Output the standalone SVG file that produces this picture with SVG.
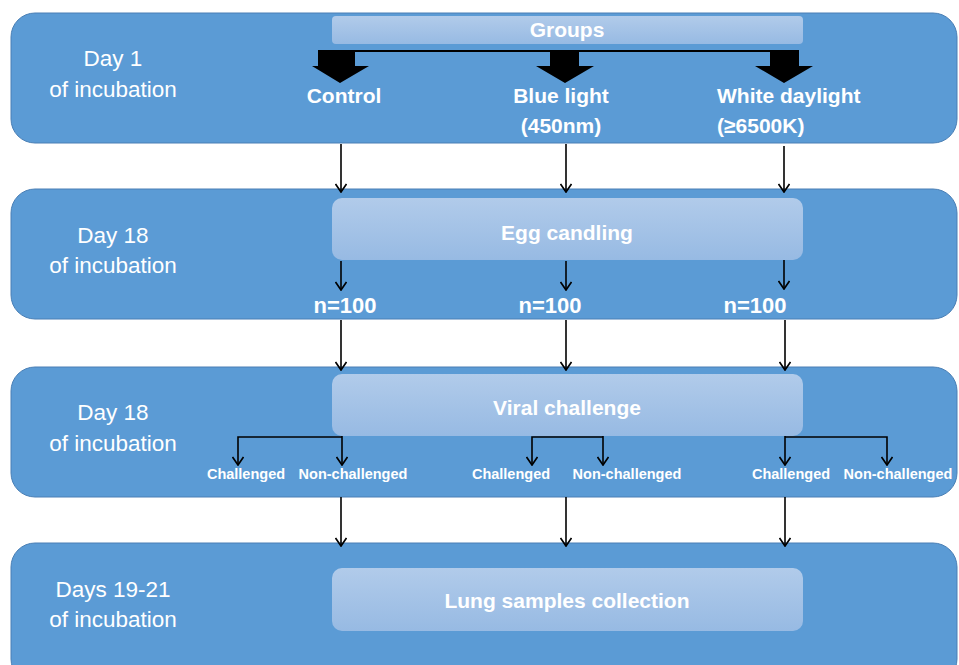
<svg xmlns="http://www.w3.org/2000/svg" width="959" height="665" viewBox="0 0 959 665">
<defs>
<linearGradient id="boxg" x1="0" y1="0" x2="0" y2="1">
<stop offset="0" stop-color="#b1cbea"/>
<stop offset="1" stop-color="#97bae3"/>
</linearGradient>
<marker id="ah" viewBox="0 0 12 12" refX="11" refY="6" markerWidth="12" markerHeight="12" markerUnits="userSpaceOnUse" orient="auto">
<path d="M3 0.5 L11 6 L3 11.5" fill="none" stroke="#000" stroke-width="1.7"/>
</marker>
</defs>
<style>
.band{fill:#5b9bd5;stroke:#4a7fb5;stroke-width:1}
.box{fill:url(#boxg)}
.day{font-family:"Liberation Sans",Arial,sans-serif;font-size:22.5px;fill:#fff;text-anchor:middle}
.bt{font-family:"Liberation Sans",Arial,sans-serif;font-size:21px;font-weight:bold;fill:#fff;text-anchor:middle}
.nn{font-family:"Liberation Sans",Arial,sans-serif;font-size:22px;font-weight:bold;fill:#fff;text-anchor:middle}
.sm{font-family:"Liberation Sans",Arial,sans-serif;font-size:14.5px;font-weight:bold;fill:#fff;text-anchor:middle}
.arr{fill:none;stroke:#000;stroke-width:1.6;marker-end:url(#ah)}
</style>
<rect width="959" height="665" fill="#fff"/>
<g id="band1"><rect class="band" x="11" y="13" width="946" height="130" rx="24"/>
<text class="day" x="113" y="66">Day 1</text><text class="day" x="113" y="97">of incubation</text></g>
<g id="band2"><rect class="band" x="11" y="189" width="946" height="130" rx="24"/>
<text class="day" x="113" y="243">Day 18</text><text class="day" x="113" y="273">of incubation</text></g>
<g id="band3"><rect class="band" x="11" y="367" width="946" height="130" rx="24"/>
<text class="day" x="113" y="420">Day 18</text><text class="day" x="113" y="451">of incubation</text></g>
<g id="band4"><rect class="band" x="11" y="543" width="946" height="140" rx="24"/>
<text class="day" x="113" y="597">Days 19-21</text><text class="day" x="113" y="627">of incubation</text></g>
<g id="groups"><rect class="box" x="332" y="16" width="471" height="28" rx="4"/>
<text class="bt" x="567" y="37">Groups</text></g>
<g id="control"><text class="bt" x="344" y="103">Control</text></g>
<g id="blue"><text class="bt" x="561" y="103">Blue light</text><text class="bt" x="561" y="133">(450nm)</text></g>
<g id="white"><text class="bt" x="717" y="103" style="text-anchor:start">White daylight</text><text class="bt" x="717" y="133" style="text-anchor:start">(≥6500K)</text></g>
<g id="egg"><rect class="box" x="332" y="198" width="471" height="62" rx="10"/>
<text class="bt" x="567" y="240">Egg candling</text></g>
<g id="n1"><text class="nn" x="345" y="313">n=100</text></g>
<g id="n2"><text class="nn" x="550" y="313">n=100</text></g>
<g id="n3"><text class="nn" x="755" y="313">n=100</text></g>
<g id="viral"><rect class="box" x="332" y="374" width="471" height="62" rx="10"/>
<text class="bt" x="567" y="415">Viral challenge</text></g>
<g id="lung"><rect class="box" x="332" y="568" width="471" height="63" rx="10"/>
<text class="bt" x="567" y="608">Lung samples collection</text></g>
<g id="c1"><text class="sm" x="246" y="479">Challenged</text></g>
<g id="nc1"><text class="sm" x="353" y="479">Non-challenged</text></g>
<g id="c2"><text class="sm" x="511" y="479">Challenged</text></g>
<g id="nc2"><text class="sm" x="627" y="479">Non-challenged</text></g>
<g id="c3"><text class="sm" x="791" y="479">Challenged</text></g>
<g id="nc3"><text class="sm" x="898" y="479">Non-challenged</text></g>
<g id="connectors">
<line x1="354" y1="51" x2="772" y2="51" stroke="#000" stroke-width="2"/>
<polygon points="318,50 355,50 355,66 369,66 340,83 312,66 318,66" fill="#000"/>
<polygon points="550,50 579,50 579,66 594,66 565,83 536,66 550,66" fill="#000"/>
<polygon points="770,50 799,50 799,66 813,66 784,83 755,66 770,66" fill="#000"/>
<line class="arr" x1="341" y1="144" x2="341" y2="192"/>
<line class="arr" x1="566" y1="144" x2="566" y2="192"/>
<line class="arr" x1="784" y1="146" x2="784" y2="192"/>
<line class="arr" x1="341" y1="261" x2="341" y2="290"/>
<line class="arr" x1="566" y1="261" x2="566" y2="290"/>
<line class="arr" x1="784" y1="260" x2="784" y2="289"/>
<line class="arr" x1="341" y1="320" x2="341" y2="370"/>
<line class="arr" x1="566" y1="320" x2="566" y2="370"/>
<line class="arr" x1="785" y1="320" x2="785" y2="370"/>
<path class="arr" d="M342 437 H238 V465"/>
<line class="arr" x1="342" y1="436" x2="342" y2="465"/>
<path class="arr" d="M603 437 H532 V465"/>
<line class="arr" x1="603" y1="436" x2="603" y2="465"/>
<path class="arr" d="M785 437 H887 V465"/>
<line class="arr" x1="785" y1="436" x2="785" y2="465"/>
<line class="arr" x1="341" y1="497" x2="341" y2="546"/>
<line class="arr" x1="566" y1="497" x2="566" y2="546"/>
<line class="arr" x1="785" y1="497" x2="785" y2="546"/>
</g>
</svg>
